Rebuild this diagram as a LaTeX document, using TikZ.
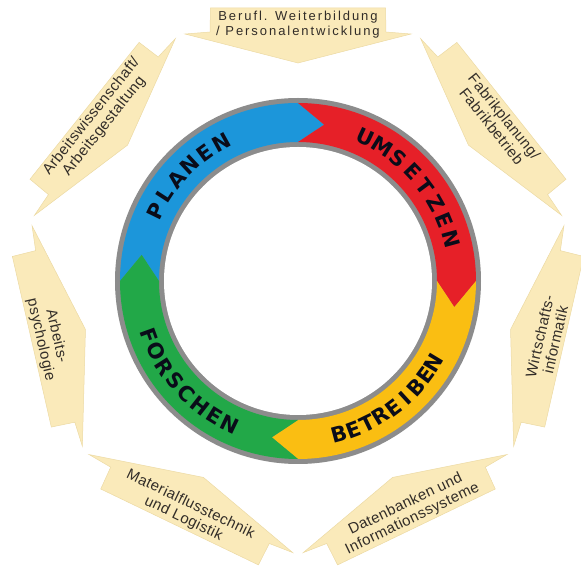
\documentclass[tikz,border=0pt]{standalone}
\usepackage{fontspec}
\setmainfont{Liberation Sans}
\newfontfamily\spacedfont[LetterSpace=15]{Liberation Sans}
\newfontfamily\plainfont[LetterSpace=3]{Liberation Sans}
\newfontfamily\ringfont{DejaVu Sans}
\usepackage{tikz}
\definecolor{callfill}{RGB}{250,234,186}
\definecolor{calledge}{RGB}{236,218,164}
\definecolor{calltxt}{RGB}{50,45,40}
\definecolor{ringgray}{RGB}{140,140,140}
\definecolor{planblue}{RGB}{28,150,218}
\definecolor{umsred}{RGB}{230,32,40}
\definecolor{betryellow}{RGB}{250,190,18}
\definecolor{forsgreen}{RGB}{34,168,72}
\definecolor{ringtxt}{RGB}{10,12,25}

\begin{document}
\begin{tikzpicture}[x=1pt,y=1pt,
    callout/.style={fill=callfill,draw=calledge,line width=0.5pt},
    calltext/.style={text=calltxt,align=center,inner sep=0pt},
    ringletter/.style={font=\ringfont\bfseries\fontsize{21}{21}\selectfont,text=ringtxt,inner sep=0pt},
  ]
    \useasboundingbox (-298,-291) rectangle (283,281);
    \foreach \rot/\tr/\fnt/\txt [count=\i] in {
        0/0/\spacedfont\fontsize{13}{15}/{Berufl. Weiterbildung\\/ Personalentwicklung},
        -51.43/-51.43/\plainfont\fontsize{15}{16}/{Fabrikplanung/\\Fabrikbetrieb},
        -102.86/77.14/\plainfont\fontsize{15}{16}/{Wirtschafts-\\informatik},
        -154.29/25.71/\plainfont\fontsize{15}{16}/{Datenbanken und\\Informationssysteme},
        -205.71/-25.71/\plainfont\fontsize{15}{16}/{Materialflusstechnik\\und Logistik},
        -257.14/-77.14/\plainfont\fontsize{15}{16}/{Arbeits-\\psychologie},
        -308.57/51.43/\plainfont\fontsize{15}{16}/{Arbeitswissenschaft/\\Arbeitsgestaltung}}{
      \begin{scope}[rotate=\rot]
        \filldraw[callout] (-87.5,273) -- (87.5,273) -- (88,249) -- (113,247)
          -- (0,218) -- (-113,247) -- (-88,249) -- cycle;
        \node[calltext,font=\fnt\selectfont,rotate=\tr] (call-\i) at (0,256) {\txt};
      \end{scope}
    }
    \fill[ringgray] (0,0) circle[radius=183];
    \fill[white] (0,0) circle[radius=134];
    \foreach \a/\col in {180/planblue,90/umsred,0/betryellow,-90/forsgreen}{
      \fill[\col] (\a:178) arc[start angle=\a, end angle=\a-90, radius=178]
        -- ({\a-99.5}:158.5) -- ({\a-90}:139) arc[start angle=\a-90, end angle=\a, radius=139]
        -- ({\a-9.5}:158.5) -- cycle;
    }
    \foreach \ch [count=\i] in {P,L,A,N,E,N}
      \node[ringletter,rotate={64-7*(\i-1)}] (plan-\i) at ({154-7*(\i-1)}:158.5) {\ch};
    \foreach \ch [count=\i] in {U,M,S,E,T,Z,E,N}
      \node[ringletter,rotate={-25-7.1*(\i-1)}] (ums-\i) at ({65-7.1*(\i-1)}:158.5) {\ch};
    \foreach \ch [count=\i] in {B,E,T,R,E,I,B,E,N}
      \node[ringletter,rotate={15+5.5*(\i-1)}] (betr-\i) at ({-75+5.5*(\i-1)}:158.5) {\ch};
    \foreach \ch [count=\i] in {F,O,R,S,C,H,E,N}
      \node[ringletter,rotate={-70+6.36*(\i-1)}] (fors-\i) at ({-160+6.36*(\i-1)}:158.5) {\ch};
  \end{tikzpicture}
\end{document}
